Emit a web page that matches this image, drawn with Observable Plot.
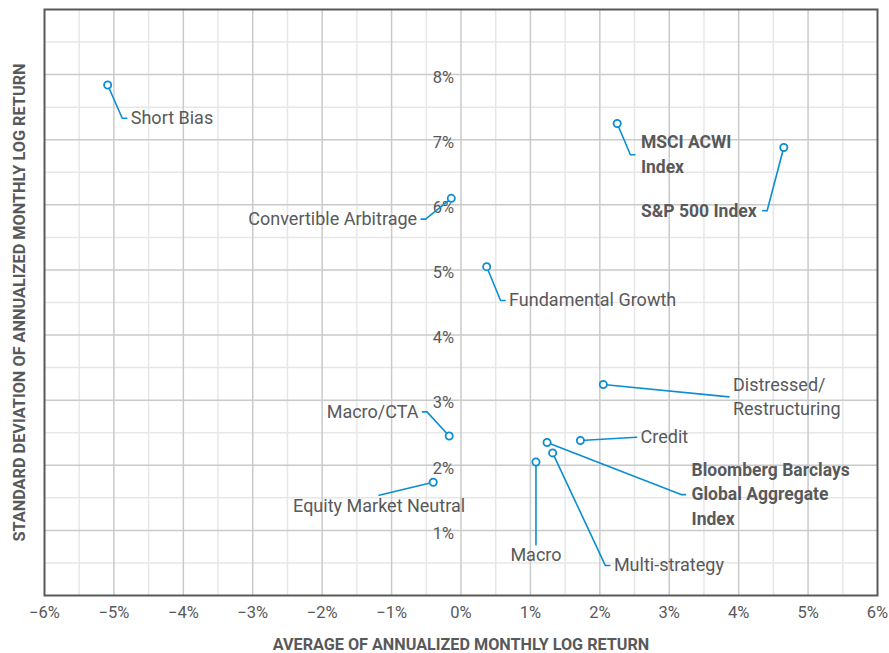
<!DOCTYPE html>
<html>
<head>
<meta charset="utf-8">
<script src="https://cdn.jsdelivr.net/npm/d3@7"></script>
<script src="https://cdn.jsdelivr.net/npm/@observablehq/plot@0.6"></script>
<style>
  html, body { margin: 0; padding: 0; background: #fff; }
  #chart svg { display: block; }
</style>
</head>
<body>
<div id="chart"></div>
<script>
// ---- data ----
const names = [
  "Short Bias", "Convertible Arbitrage", "MSCI ACWI\nIndex", "S&P 500 Index",
  "Fundamental Growth", "Distressed/\nRestructuring", "Macro/CTA", "Credit",
  "Bloomberg Barclays\nGlobal Aggregate\nIndex", "Multi-strategy", "Macro", "Equity Market Neutral"
];
const kind = [
  "strategy", "strategy", "index", "index",
  "strategy", "strategy", "strategy", "strategy",
  "index", "strategy", "strategy", "strategy"
];
// average of annualized monthly log return (%)
const avgReturn = [-5.09, -0.14, 2.25, 4.65, 0.37, 2.05, -0.17, 1.72, 1.24, 1.32, 1.08, -0.40];
// standard deviation of annualized monthly log return (%)
const stdDev    = [ 7.84,  6.10, 7.25, 6.88, 5.05, 3.24,  2.45, 2.38, 2.35, 2.19, 2.05,  1.74];
// label leader end points (data units)
const labelX    = [-4.88, -0.51, 2.44, 4.41, 0.57, 3.86, -0.49, 2.53, 3.17, 2.08, 1.08, -1.18];
const labelY    = [ 7.33,  5.78, 6.77, 5.91, 4.53, 3.05,  2.82, 2.43, 1.55, 0.46, 0.78,  1.54];
const labelSide = ["right", "left", "right", "left", "right", "right", "left", "right", "right", "right", "below", "below"];
const hasTick   = [true, true, true, true, true, false, true, false, true, true, false, false];

const xTicks = [-6, -5, -4, -3, -2, -1, 0, 1, 2, 3, 4, 5, 6];
const yTicks = [1, 2, 3, 4, 5, 6, 7, 8];
const xTitle = "AVERAGE OF ANNUALIZED MONTHLY LOG RETURN";
const yTitle = "STANDARD DEVIATION OF ANNUALIZED MONTHLY LOG RETURN";

// ---- derived tables ----
const tickLen = 0.065;
const funds = names.map((name, i) => {
  const side = labelSide[i];
  const ex = labelX[i] + (hasTick[i] ? (side === "left" ? -tickLen : tickLen) : 0);
  return {name, kind: kind[i], x: avgReturn[i], y: stdDev[i], lx: labelX[i], ly: labelY[i], ex, ey: labelY[i], side};
});
const leaders = funds.flatMap((d, i) => {
  const pts = [{i, x: d.x, y: d.y}, {i, x: d.lx, y: d.ly}];
  if (hasTick[i]) pts.push({i, x: d.ex, y: d.ey});
  return pts;
});
const minorX = d3.range(-5.5, 6, 1);
const minorY = d3.range(0.5, 9, 1);
const majorX = xTicks.slice(1, -1);
const majorY = d3.range(1, 9);

const fmt = d => (d < 0 ? "\u2212" : "") + Math.abs(d) + "%";
const blue = "#0b8ed1";
const grey = "#58595b";

const chart = Plot.plot({
  width: 889,
  height: 653,
  marginLeft: 44,
  marginRight: 12,
  marginTop: 9,
  marginBottom: 58,
  x: {domain: [-6, 6], axis: null},
  y: {domain: [0, 9], axis: null},
  style: {fontFamily: "Roboto, 'Open Sans', sans-serif", background: "#fff", color: grey},
  marks: [
    Plot.ruleX(minorX, {stroke: "#e7e7e7", strokeWidth: 1.5}),
    Plot.ruleY(minorY, {stroke: "#e7e7e7", strokeWidth: 1.5}),
    Plot.ruleX(majorX, {stroke: "#cacaca", strokeWidth: 1.5}),
    Plot.ruleY(majorY, {stroke: "#cacaca", strokeWidth: 1.5}),
    Plot.frame({stroke: grey, strokeWidth: 2}),
    // x tick labels
    Plot.text(xTicks, {x: d => d, frameAnchor: "bottom", lineAnchor: "middle", dy: 17, text: fmt, fontSize: 16.5, fill: grey}),
    // y tick labels along the zero line
    Plot.text(yTicks, {x: 0, y: d => d, text: fmt, textAnchor: "end", dx: -7, dy: 3, fontSize: 16.5, fill: grey}),
    // leaders
    Plot.line(leaders, {x: "x", y: "y", z: "i", stroke: blue, strokeWidth: 1.6, curve: "linear"}),
    Plot.dot(funds, {x: "x", y: "y", r: 3.6, stroke: blue, strokeWidth: 1.8, fill: "#fff"}),
    // labels
    Plot.text(funds.filter(d => d.side === "right" && d.kind === "strategy"),
      {x: "ex", y: "ey", text: "name", textAnchor: "start", dx: 4, dy: -2, fontSize: 18, lineHeight: 1.33, fill: grey}),
    Plot.text(funds.filter(d => d.side === "left" && d.kind === "strategy"),
      {x: "ex", y: "ey", text: "name", textAnchor: "end", dx: -4, dy: -2, fontSize: 18, lineHeight: 1.33, fill: grey}),
    Plot.text(funds.filter(d => d.side === "below"),
      {x: "ex", y: "ey", text: "name", textAnchor: "middle", dy: 11, fontSize: 18, fill: grey}),
    Plot.text(funds.filter(d => d.side === "right" && d.kind === "index"),
      {x: "ex", y: "ey", text: "name", textAnchor: "start", dx: 6, dy: -2, fontSize: 17.5, fontWeight: "bold", lineHeight: 1.4, fill: grey}),
    Plot.text(funds.filter(d => d.side === "left" && d.kind === "index"),
      {x: "ex", y: "ey", text: "name", textAnchor: "end", dx: -6, dy: -2, fontSize: 17.5, fontWeight: "bold", lineHeight: 1.4, fill: grey}),
    // axis titles
    Plot.text([xTitle], {frameAnchor: "bottom", lineAnchor: "middle", dy: 49, fontSize: 16.2, fontWeight: "bold", fill: grey}),
    Plot.text([yTitle], {frameAnchor: "left", textAnchor: "middle", lineAnchor: "middle", rotate: -90, dx: -25, fontSize: 16.3, fontWeight: "bold", fill: grey})
  ]
});
document.getElementById("chart").appendChild(chart);
</script>
</body>
</html>
